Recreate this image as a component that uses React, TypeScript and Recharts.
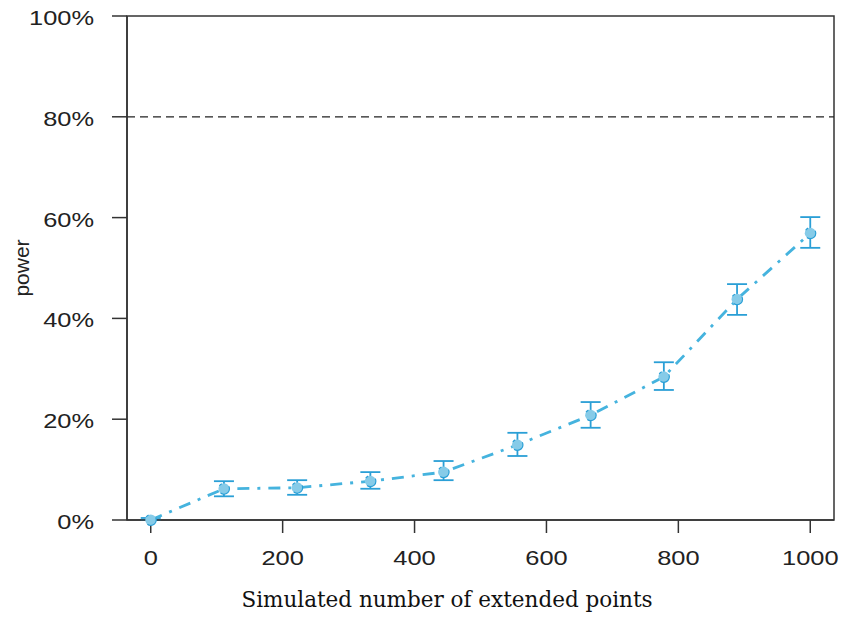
import React from 'react';
import { ComposedChart, Line, XAxis, YAxis, ErrorBar, ReferenceLine, ReferenceArea } from 'recharts';

const sizes = [0, 111, 222, 333, 444, 556, 667, 778, 889, 1000];
const power = [0, 0.062, 0.064, 0.077, 0.095, 0.149, 0.208, 0.284, 0.438, 0.569];
const lower = [0, 0.047, 0.05, 0.062, 0.079, 0.127, 0.183, 0.258, 0.407, 0.54];
const upper = [0.004, 0.077, 0.079, 0.095, 0.117, 0.173, 0.234, 0.313, 0.468, 0.601];
const xTicks = [0, 200, 400, 600, 800, 1000];
const yTicks = [0, 0.2, 0.4, 0.6, 0.8, 1];
const targetPower = 0.8;
const xTitle = 'Simulated number of extended points';
const yTitle = 'power';

const data = sizes.map((x, i) => ({
  x,
  power: power[i],
  err: [power[i] - lower[i], upper[i] - power[i]],
}));

const SX = 1.27;

const YTick = (props: any) => {
  const { x, y, payload } = props;
  return (
    <text
      transform={`translate(${x},${y + 9}) scale(${SX},1)`}
      textAnchor="end"
      fontFamily="Liberation Sans, Arial, sans-serif"
      fontSize={20}
      fill="#222"
    >
      {Math.round(payload.value * 100) + '%'}
    </text>
  );
};

const XTick = (props: any) => {
  const { x, y, payload } = props;
  return (
    <text
      transform={`translate(${x},${y + 32}) scale(${SX},1)`}
      textAnchor="middle"
      fontFamily="Liberation Sans, Arial, sans-serif"
      fontSize={20}
      fill="#222"
    >
      {payload.value}
    </text>
  );
};

const YLabel = () => (
  <text
    x={21}
    y={268}
    transform="rotate(-90,21,268)"
    textAnchor="middle"
    dominantBaseline="central"
    fontFamily="Liberation Sans, Arial, sans-serif"
    fontSize={21}
    fill="#222"
  >
    {yTitle}
  </text>
);

const XLabel = () => (
  <text
    x={447}
    y={607}
    textAnchor="middle"
    fontFamily="DejaVu Serif, serif"
    fontSize={21.5}
    fill="#111"
  >
    {xTitle}
  </text>
);

export default function App() {
  return (
    <div style={{ position: 'absolute', left: 0, top: 0, background: '#fff' }}>
      <ComposedChart
        width={841}
        height={622}
        data={data}
        margin={{ top: 16, right: 7, left: 0, bottom: 0 }}
      >
        <XAxis
          dataKey="x"
          type="number"
          domain={[-36, 1036]}
          ticks={xTicks}
          height={102}
          tickSize={13}
          tickMargin={0}
          tick={<XTick />}
          axisLine={{ stroke: '#333', strokeWidth: 1.5 }}
          tickLine={{ stroke: '#333', strokeWidth: 1.5 }}
          label={<XLabel />}
        />
        <YAxis
          type="number"
          domain={[0, 1]}
          ticks={yTicks}
          width={127}
          tickSize={15}
          tickMargin={18}
          tick={<YTick />}
          axisLine={{ stroke: '#333', strokeWidth: 1.5 }}
          tickLine={{ stroke: '#333', strokeWidth: 1.5 }}
          label={<YLabel />}
        />
        <ReferenceArea x1={-36} x2={1036} y1={0} y2={1} fill="none" fillOpacity={0} stroke="#333" strokeWidth={1.5} />
        <ReferenceLine y={targetPower} stroke="#222" strokeWidth={1.2} strokeDasharray="8 5" />
        <Line
          dataKey="power"
          type="linear"
          stroke="#45b3de"
          strokeWidth={2.8}
          strokeDasharray="12 8 3 8"
          dot={{ r: 5.5, fill: '#86cbe8', stroke: '#2a9fd6', strokeWidth: 1.2 }}
          isAnimationActive={false}
        >
          <ErrorBar dataKey="err" width={10} stroke="#2a9fd6" strokeWidth={1.8} direction="y" />
        </Line>
      </ComposedChart>
    </div>
  );
}
